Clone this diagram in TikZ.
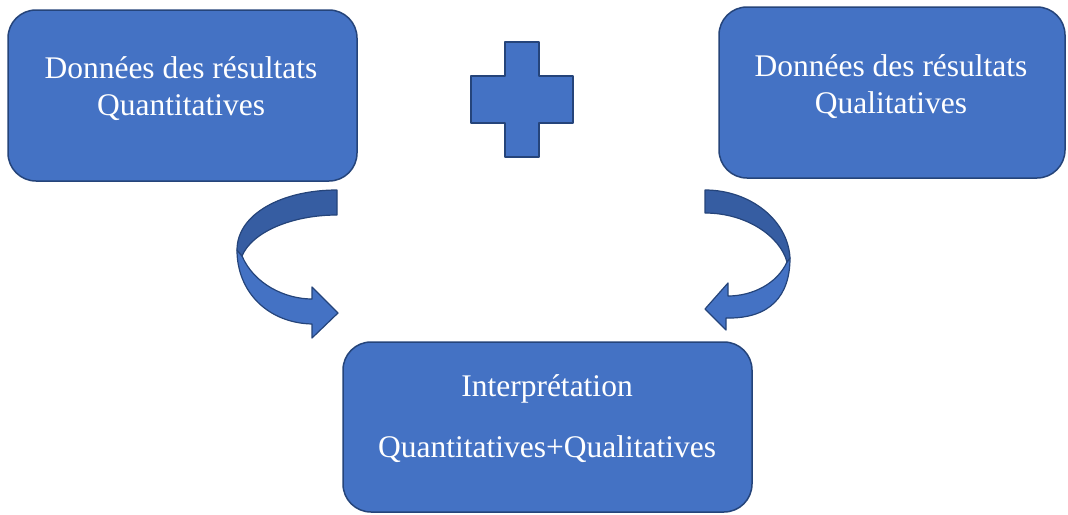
\documentclass[tikz,border=0pt]{standalone}
\usepackage{fontspec}
\setmainfont{Liberation Serif}
\definecolor{fillblue}{HTML}{4472C4}
\definecolor{edgeblue}{HTML}{25447A}
\definecolor{darkfill}{HTML}{365DA2}
\begin{document}
\begin{tikzpicture}[x=1pt,y=-1pt,
  box/.style={draw=edgeblue, line width=1.5pt, fill=fillblue, rounded corners=28pt, inner sep=0pt},
  txt/.style={text=white, font=\fontsize{31.5}{37}\selectfont, inner sep=0pt, anchor=base},
  shapeblue/.style={draw=edgeblue, line width=1.2pt, fill=fillblue, line join=round},
  shapedark/.style={draw=edgeblue, line width=1.2pt, fill=darkfill, line join=round}]
\useasboundingbox (0,0) rectangle (1068,514);

% boxes
\node[box, minimum width=349pt, minimum height=171pt] (qbox) at (182.5,95.5) {};
\node[box, minimum width=346pt, minimum height=171pt] (lbox) at (892,92.5) {};
\node[box, minimum width=409pt, minimum height=170pt] (ibox) at (547.5,427) {};

% texts
\node[txt] (q1) at (181,78) {Données des résultats};
\node[txt] (q2) at (181,115) {Quantitatives};
\node[txt] (l1) at (891,76) {Données des résultats};
\node[txt] (l2) at (891,113) {Qualitatives};
\node[txt] (i1) at (547,396) {Interprétation};
\node[txt] (i2) at (547,457) {Quantitatives+Qualitatives};

% plus sign
\draw[shapeblue] (505,42) -- (539,42) -- (539,76) -- (573,76) -- (573,123) -- (539,123)
  -- (539,157) -- (505,157) -- (505,123) -- (471,123) -- (471,76) -- (505,76) -- cycle;

% left curved arrow
\draw[shapeblue] (242,256) .. controls (254,284) and (285,299) .. (312,299)
  -- (312,287) -- (338,313) -- (312,338) -- (312,324)
  .. controls (268,323) and (237,292) .. (237,250) -- cycle;
\draw[shapedark] (337,190) .. controls (282,190) and (237,214) .. (237,250)
  -- (242,256) .. controls (252,232) and (292,215) .. (337,215) -- cycle;

% right curved arrow (mirror)
\begin{scope}[shift={(1042,0)}, xscale=-1]
\draw[shapeblue] (255,262) .. controls (265,284) and (290,296) .. (314,296)
  -- (314,283) -- (337,309) -- (316,330) -- (316,318)
  .. controls (272,319) and (252,296) .. (252,258) -- cycle;
\draw[shapedark] (337,190) .. controls (292,190) and (254,220) .. (252,258)
  -- (255,262) .. controls (262,236) and (296,213) .. (337,213) -- cycle;
\end{scope}
\end{tikzpicture}
\end{document}
